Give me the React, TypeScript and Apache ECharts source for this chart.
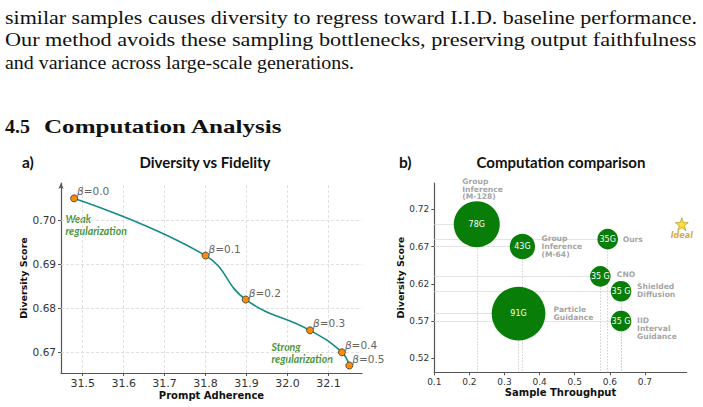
import React, { useEffect, useRef } from "react";
import * as echarts from "echarts";

// ---- Paragraph text above the figure ----
const paragraphLines = [
  "similar samples causes diversity to regress toward I.I.D. baseline performance.",
  "Our method avoids these sampling bottlenecks, preserving output faithfulness",
  "and variance across large-scale generations.",
];
const sectionNumber = "4.5";
const sectionTitle = "Computation Analysis";

// ---- Panel a: diversity vs fidelity trade-off ----
const betaValues = [0.0, 0.1, 0.2, 0.3, 0.4, 0.5];
const promptAdherence = [31.479, 31.8, 31.898, 32.055, 32.133, 32.151];
const diversityScoreA = [0.705, 0.692, 0.682, 0.675, 0.67, 0.667];
const adherenceTicks = [31.5, 31.6, 31.7, 31.8, 31.9, 32.0, 32.1];
const diversityTicksA = [0.67, 0.68, 0.69, 0.7];

// ---- Panel b: computation comparison ----
const methodLabels = [
  "Group\nInference\n(M-128)",
  "Group\nInference\n(M-64)",
  "Ours",
  "CNO",
  "Shielded\nDiffusion",
  "Particle\nGuidance",
  "IID\nInterval\nGuidance",
];
const sampleThroughput = [0.221, 0.351, 0.594, 0.573, 0.632, 0.34, 0.632];
const diversityScoreB = [0.7, 0.67, 0.68, 0.63, 0.61, 0.58, 0.57];
const memoryGB = [78, 43, 35, 35, 35, 91, 35];
const memoryText = ["78G", "43G", "35G", "35 G", "35 G", "91G", "35 G"];
const idealPoint = [0.805, 0.7];
const throughputTicks = [0.1, 0.2, 0.3, 0.4, 0.5, 0.6, 0.7];
const diversityTicksB = [0.52, 0.57, 0.62, 0.67, 0.72];

// axis extents
const A_X = [31.447, 32.182];
const A_Y = [0.6653, 0.7085];
const B_X = [0.1, 0.819];
const B_Y = [0.5012, 0.7553];

// placement of the method names next to each bubble: [dx, dy, verticalAlign]
const methodLabelPlacement: [number, number, string][] = [
  [-14, -23, "bottom"],
  [19.5, 0.5, "middle"],
  [15.5, 0.5, "middle"],
  [17, -1, "middle"],
  [16.5, -0.5, "middle"],
  [35.5, 0.5, "middle"],
  [16.5, 8, "middle"],
];

const GB_TO_PX = 0.59;
const STAR =
  "path://M12 0 L14.9 8.1 L23.4 8.1 L16.5 13.2 L19.1 21.4 L12 16.4 L4.9 21.4 L7.5 13.2 L0.6 8.1 L9.1 8.1 Z";

const SANS = "DejaVu Sans";
const SERIF = "Liberation Serif";

function measure(text: string, font: string): number {
  const ctx = document.createElement("canvas").getContext("2d");
  if (!ctx) return text.length * 8;
  ctx.font = font;
  return ctx.measureText(text).width;
}

function serifLine(text: string, x: number, y: number, width: number, bold = false) {
  const size = 19;
  const w = measure(text, `${bold ? "bold " : ""}${size}px "${SERIF}"`);
  return {
    type: "text",
    x,
    y,
    scaleX: width / w,
    silent: true,
    style: {
      text,
      fontFamily: SERIF,
      fontSize: size,
      fontWeight: bold ? "bold" : "normal",
      fill: "#111",
      align: "left",
      verticalAlign: "middle",
    },
  };
}

function label(text: string, x: number, y: number, opts: any = {}) {
  return {
    type: "text",
    x,
    y,
    silent: true,
    style: {
      text,
      fontFamily: "Lato",
      fontSize: 14,
      fontWeight: "bold",
      fill: "#111",
      align: "left",
      verticalAlign: "middle",
      ...opts,
    },
  };
}

export default function App() {
  const ref = useRef<HTMLDivElement>(null);

  useEffect(() => {
    if (!ref.current) return;
    const chart = echarts.init(ref.current, undefined, { renderer: "svg" });

    const tickLabel = (digits: number, size: number) => ({
      fontFamily: SANS,
      fontSize: size,
      color: "#333",
      margin: 5,
      formatter: (v: number) => Number(v).toFixed(digits),
    });
    const axisName = {
      fontFamily: SANS,
      fontWeight: "bold",
      fontSize: 10,
      color: "#111",
    };
    const axisLineStyle = { color: "#555", width: 1.2 };

    const lineData = promptAdherence.map((x, i) => [x, diversityScoreA[i]]);

    const option: any = {
      animation: false,
      backgroundColor: "#fff",
      grid: [
        { left: 61, top: 183, width: 301, height: 190 },
        { left: 434.3, top: 183, width: 252.4, height: 189.3 },
      ],
      xAxis: [
        {
          gridIndex: 0,
          type: "value",
          min: A_X[0],
          max: A_X[1],
          axisLine: { show: true, onZero: false, lineStyle: axisLineStyle },
          axisTick: { show: true, customValues: adherenceTicks, length: 3, lineStyle: { color: "#555" } },
          axisLabel: { ...tickLabel(1, 11), customValues: adherenceTicks },
          splitLine: { show: false },
          name: "Prompt Adherence",
          nameLocation: "middle",
          nameGap: 17,
          nameTextStyle: axisName,
        },
        {
          gridIndex: 1,
          type: "value",
          min: B_X[0],
          max: B_X[1],
          axisLine: { show: true, onZero: false, lineStyle: axisLineStyle },
          axisTick: { show: true, customValues: throughputTicks, length: 3, lineStyle: { color: "#555" } },
          axisLabel: { ...tickLabel(1, 9), customValues: throughputTicks },
          splitLine: { show: false },
          name: "Sample Throughput",
          nameLocation: "middle",
          nameGap: 15,
          nameTextStyle: axisName,
        },
      ],
      yAxis: [
        {
          gridIndex: 0,
          type: "value",
          min: A_Y[0],
          max: A_Y[1],
          axisLine: {
            show: true,
            onZero: false,
            lineStyle: axisLineStyle,
            symbol: ["none", "arrow"],
            symbolSize: [4, 6],
          },
          axisTick: { show: true, customValues: diversityTicksA, length: 3, lineStyle: { color: "#555" } },
          axisLabel: { ...tickLabel(2, 10.5), customValues: diversityTicksA },
          splitLine: { show: false },
          name: "Diversity Score",
          nameLocation: "middle",
          nameGap: 25,
          nameTextStyle: { ...axisName, fontSize: 9.5 },
        },
        {
          gridIndex: 1,
          type: "value",
          min: B_Y[0],
          max: B_Y[1],
          axisLine: { show: true, onZero: false, lineStyle: axisLineStyle },
          axisTick: { show: true, customValues: diversityTicksB, length: 3, lineStyle: { color: "#555" } },
          axisLabel: { ...tickLabel(2, 9), customValues: diversityTicksB },
          splitLine: { show: false },
          name: "Diversity Score",
          nameLocation: "middle",
          nameGap: 24,
          nameTextStyle: { ...axisName, fontSize: 9.5 },
        },
      ],
      series: [
        // dashed grid for panel a
        {
          type: "line",
          xAxisIndex: 0,
          yAxisIndex: 0,
          data: lineData,
          showSymbol: false,
          symbol: "none",
          lineStyle: { opacity: 0 },
          silent: true,
          z: 1,
          markLine: {
            z: 1,
            silent: true,
            symbol: "none",
            label: { show: false },
            lineStyle: { color: "#d8d8d8", width: 0.8, type: [3, 2] },
            data: [
              ...adherenceTicks.map((v) => ({ xAxis: v })),
              ...diversityTicksA.map((v) => ({ yAxis: v })),
            ],
          },
        },
        {
          type: "line",
          xAxisIndex: 0,
          yAxisIndex: 0,
          data: lineData.map((d, i) => ({
            value: d,
            name: betaValues[i].toFixed(1),
          })),
          smooth: 0.45,
          z: 3,
          lineStyle: { color: "#14898a", width: 1.6 },
          symbol: "circle",
          symbolSize: 7,
          itemStyle: { color: "#ff8c00", borderColor: "#333", borderWidth: 0.8 },
          label: {
            show: true,
            position: "top",
            distance: 0,
            align: "left",
            offset: [3, 2.5],
            formatter: (p: any) => `{b|β}{n|=${p.name}}`,
            rich: {
              b: { fontFamily: SANS, fontStyle: "italic", fontSize: 10.5, color: "#666" },
              n: { fontFamily: SANS, fontSize: 10.5, color: "#666" },
            },
          },
        },
        // reference lines from each bubble to both axes
        {
          type: "scatter",
          xAxisIndex: 1,
          yAxisIndex: 1,
          data: sampleThroughput.map((x, i) => ({
            value: [x, diversityScoreB[i]],
            label: {
              position: [methodLabelPlacement[i][0], methodLabelPlacement[i][1]],
              verticalAlign: methodLabelPlacement[i][2],
            },
          })),
          symbolSize: 1,
          itemStyle: { color: "rgba(0,0,0,0)" },
          silent: true,
          z: 1,
          label: {
            show: true,
            align: "left",
            fontFamily: SANS,
            fontWeight: "bold",
            fontSize: 7.6,
            lineHeight: 7.8,
            color: "#8c8c8c",
            formatter: (p: any) => methodLabels[p.dataIndex],
          },
          markLine: {
            z: 1,
            silent: true,
            symbol: "none",
            label: { show: false },
            data: sampleThroughput.flatMap((x, i) => [
              [
                { coord: [B_X[0], diversityScoreB[i]], lineStyle: { color: "#dcdcdc", width: 0.8, type: "solid" } },
                { coord: [x, diversityScoreB[i]] },
              ],
              [
                { coord: [x, diversityScoreB[i]], lineStyle: { color: "#c4c4c4", width: 0.8, type: [1.5, 1.5] } },
                { coord: [x, B_Y[0]] },
              ],
            ]),
          },
        },
        {
          type: "scatter",
          xAxisIndex: 1,
          yAxisIndex: 1,
          data: sampleThroughput.map((x, i) => [x, diversityScoreB[i], memoryGB[i]]),
          symbolSize: (v: number[]) => v[2] * GB_TO_PX,
          itemStyle: { color: "#087d08", opacity: 1 },
          z: 3,
          label: {
            show: true,
            position: "inside",
            fontFamily: SANS,
            fontSize: 8,
            color: "#fff",
            formatter: (p: any) => memoryText[p.dataIndex],
          },
        },
        {
          type: "scatter",
          xAxisIndex: 1,
          yAxisIndex: 1,
          data: [idealPoint],
          symbol: STAR,
          symbolSize: 13,
          itemStyle: { color: "#ffd700", borderColor: "#8a6d00", borderWidth: 0.6 },
          z: 4,
          label: {
            show: true,
            position: "bottom",
            distance: 1,
            formatter: "Ideal",
            fontFamily: SANS,
            fontWeight: "bold",
            fontStyle: "italic",
            fontSize: 8,
            color: "#c9940a",
          },
        },
      ],
      graphic: [
        serifLine(paragraphLines[0], 5, 17.3, 692),
        serifLine(paragraphLines[1], 5, 39.7, 692),
        serifLine(paragraphLines[2], 5, 62.3, 349),
        serifLine(sectionNumber, 5, 126.7, 25, true),
        serifLine(sectionTitle, 44, 126.7, 239, true),
        label("a)", 22, 162, { fontSize: 15.5 }),
        label("Diversity vs Fidelity", 205, 162, { align: "center", fontSize: 15 }),
        label("b)", 399, 162, { fontSize: 15.5 }),
        label("Computation comparison", 561, 162, { align: "center", fontSize: 15 }),
        label("Weak\nregularization", 65.5, 225, {
          fontSize: 10.5,
          fontStyle: "italic",
          lineHeight: 12,
          fill: "#4e9437",
        }),
        label("Strong\nregularization", 271.5, 353, {
          fontSize: 10.5,
          fontStyle: "italic",
          lineHeight: 12.5,
          fill: "#4e9437",
        }),
      ],
    };

    chart.setOption(option);
    return () => chart.dispose();
  }, []);

  return (
    <div
      ref={ref}
      style={{ position: "fixed", left: 0, top: 0, width: 703, height: 407 }}
    />
  );
}
